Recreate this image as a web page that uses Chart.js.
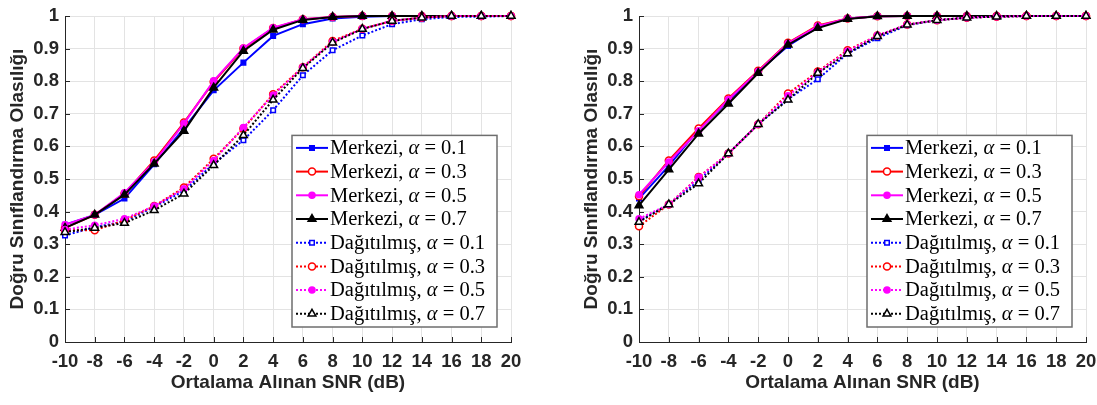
<!DOCTYPE html>
<html>
<head>
<meta charset="utf-8">
<script src="https://cdn.jsdelivr.net/npm/chart.js@4.4.1/dist/chart.umd.min.js"></script>
<style>
  html, body { margin: 0; padding: 0; background: #fff; overflow: hidden; }
  #wrap { position: relative; width: 1097px; height: 405px; }
  canvas { position: absolute; top: 0; display: block; }
</style>
</head>
<body>
<div id="wrap">
  <canvas id="left" width="574" height="405" style="left:0"></canvas>
  <canvas id="right" width="523" height="405" style="left:574px"></canvas>
</div>
<script>
// x values (dB)
const snr = [-10, -8, -6, -4, -2, 0, 2, 4, 6, 8, 10, 12, 14, 16, 18, 20];
const xTitle = "Ortalama Alınan SNR (dB)";
const yTitle = "Doğru Sınıflandırma Olasılığı";
const seriesNames = [
  "Merkezi, α = 0.1", "Merkezi, α = 0.3", "Merkezi, α = 0.5", "Merkezi, α = 0.7",
  "Dağıtılmış, α = 0.1", "Dağıtılmış, α = 0.3", "Dağıtılmış, α = 0.5", "Dağıtılmış, α = 0.7"
];

// left panel
const leftMerkezi01 = [0.360, 0.390, 0.440, 0.545, 0.655, 0.772, 0.857, 0.939, 0.975, 0.992, 0.998, 1, 1, 1, 1, 1];
const leftMerkezi03 = [0.350, 0.390, 0.455, 0.557, 0.673, 0.798, 0.900, 0.963, 0.990, 0.997, 1, 1, 1, 1, 1, 1];
const leftMerkezi05 = [0.360, 0.390, 0.458, 0.552, 0.670, 0.801, 0.902, 0.964, 0.990, 0.997, 1, 1, 1, 1, 1, 1];
const leftMerkezi07 = [0.350, 0.390, 0.452, 0.547, 0.647, 0.780, 0.893, 0.958, 0.988, 0.997, 1, 1, 1, 1, 1, 1];
const leftDagitik01 = [0.327, 0.352, 0.370, 0.414, 0.464, 0.547, 0.619, 0.711, 0.818, 0.895, 0.940, 0.975, 0.990, 0.997, 0.998, 1];
const leftDagitik03 = [0.343, 0.343, 0.373, 0.417, 0.474, 0.562, 0.655, 0.760, 0.843, 0.923, 0.961, 0.985, 0.995, 1, 1, 1];
const leftDagitik05 = [0.345, 0.358, 0.378, 0.417, 0.470, 0.557, 0.658, 0.757, 0.843, 0.920, 0.961, 0.985, 0.995, 1, 1, 1];
const leftDagitik07 = [0.337, 0.350, 0.365, 0.404, 0.455, 0.542, 0.634, 0.743, 0.840, 0.918, 0.960, 0.985, 0.995, 1, 1, 1];

// right panel
const rightMerkezi01 = [0.440, 0.540, 0.652, 0.740, 0.830, 0.908, 0.966, 0.992, 0.999, 1, 1, 1, 1, 1, 1, 1];
const rightMerkezi03 = [0.447, 0.557, 0.655, 0.747, 0.832, 0.918, 0.971, 0.992, 0.999, 1, 1, 1, 1, 1, 1, 1];
const rightMerkezi05 = [0.452, 0.552, 0.648, 0.744, 0.830, 0.916, 0.969, 0.992, 0.999, 1, 1, 1, 1, 1, 1, 1];
const rightMerkezi07 = [0.419, 0.529, 0.639, 0.731, 0.825, 0.912, 0.963, 0.991, 0.999, 1, 1, 1, 1, 1, 1, 1];
const rightDagitik01 = [0.372, 0.422, 0.495, 0.578, 0.668, 0.745, 0.806, 0.885, 0.932, 0.972, 0.987, 0.995, 0.998, 1, 1, 1];
const rightDagitik03 = [0.355, 0.422, 0.506, 0.578, 0.668, 0.762, 0.830, 0.895, 0.940, 0.974, 0.987, 0.995, 0.998, 1, 1, 1];
const rightDagitik05 = [0.378, 0.422, 0.505, 0.578, 0.668, 0.755, 0.827, 0.892, 0.940, 0.974, 0.987, 0.995, 0.998, 1, 1, 1];
const rightDagitik07 = [0.368, 0.422, 0.486, 0.578, 0.668, 0.743, 0.825, 0.885, 0.938, 0.973, 0.987, 0.995, 0.998, 1, 1, 1];

// marker / colour per alpha
const styles = [
  { color: "#0000ff", point: "rect", r: 3.2 },
  { color: "#ff0000", point: "circle", r: 3.5 },
  { color: "#ff00ff", point: "circle", r: 3 },
  { color: "#000000", point: "triangle", r: 4.5 }
];

function makeSets(merkezi, dagitik) {
  const sets = [];
  merkezi.concat(dagitik).forEach((vals, i) => {
    const s = styles[i % 4];
    const dotted = i >= 4;
    const hollow = (dotted && i !== 6) || i === 1;
    sets.push({
      label: seriesNames[i],
      data: snr.map((x, k) => ({ x: x, y: vals[k] })),
      borderColor: s.color,
      backgroundColor: s.color,
      borderWidth: 2,
      borderDash: dotted ? [2, 2] : [],
      pointStyle: s.point,
      pointRadius: s.r,
      pointBorderWidth: 1.5,
      pointBackgroundColor: hollow ? "#ffffff" : s.color,
      pointBorderColor: s.color,
      tension: 0,
      clip: false,
      order: 8 - i
    });
  });
  return sets;
}

// small inward tick marks like the original axes
const innerTicks = {
  id: "innerTicks",
  afterDatasetsDraw(chart) {
    const ctx = chart.ctx;
    const a = chart.chartArea;
    const xs = chart.scales.x, ys = chart.scales.y;
    ctx.save();
    ctx.strokeStyle = "#262626";
    ctx.lineWidth = 1;
    ctx.beginPath();
    xs.ticks.forEach(t => {
      const px = Math.round(xs.getPixelForValue(t.value)) + 0.5;
      ctx.moveTo(px, a.bottom);
      ctx.lineTo(px, a.bottom - 5);
    });
    ys.ticks.forEach(t => {
      const py = Math.round(ys.getPixelForValue(t.value)) + 0.5;
      ctx.moveTo(a.left, py);
      ctx.lineTo(a.left + 5, py);
    });
    ctx.stroke();
    ctx.restore();
  }
};

// legend drawn inside the plot area, bottom right
const insideLegend = {
  id: "insideLegend",
  afterDraw(chart) {
    const ctx = chart.ctx;
    const a = chart.chartArea;
    const w = 205, rowH = 23.7;
    const sets = chart.data.datasets;
    const h = rowH * sets.length + 2;
    const x0 = a.right - 14 - w;
    const y0 = a.bottom - 15 - h;
    const font = "20.5px 'Liberation Serif', serif";
    ctx.save();
    ctx.fillStyle = "#ffffff";
    ctx.fillRect(x0, y0, w, h);
    ctx.strokeStyle = "#6e6e6e";
    ctx.lineWidth = 1.5;
    ctx.strokeRect(x0, y0, w, h);
    sets.forEach((ds, i) => {
      const cy = y0 + 12.5 + i * rowH;
      ctx.beginPath();
      ctx.setLineDash(ds.borderDash);
      ctx.strokeStyle = ds.borderColor;
      ctx.lineWidth = 2;
      ctx.moveTo(x0 + 4, cy);
      ctx.lineTo(x0 + 36, cy);
      ctx.stroke();
      ctx.setLineDash([]);
      ctx.fillStyle = ds.pointBackgroundColor;
      ctx.strokeStyle = ds.pointBorderColor;
      ctx.lineWidth = ds.pointBorderWidth;
      Chart.helpers.drawPoint(ctx, { pointStyle: ds.pointStyle, radius: ds.pointRadius, rotation: 0, borderWidth: ds.pointBorderWidth }, x0 + 20, cy);
      // label with italic alpha
      const parts = ds.label.split("α");
      let tx = x0 + 38;
      ctx.fillStyle = "#000000";
      ctx.textBaseline = "middle";
      ctx.font = font;
      ctx.fillText(parts[0], tx, cy + 1);
      tx += ctx.measureText(parts[0]).width;
      ctx.font = "italic " + font;
      ctx.fillText("α", tx, cy + 1);
      tx += ctx.measureText("α").width;
      ctx.font = font;
      ctx.fillText(parts[1], tx, cy + 1);
    });
    ctx.restore();
  }
};

const tickFont = { family: "'Liberation Sans', Arial, sans-serif", size: 18.5, weight: "bold" };
const titleFont = { family: "'Liberation Sans', Arial, sans-serif", size: 19, weight: "bold" };

function makeChart(id, sets, padRight) {
  return new Chart(document.getElementById(id), {
    type: "line",
    data: { datasets: sets },
    options: {
      responsive: false,
      animation: false,
      layout: { padding: { left: 0, right: padRight, top: 16, bottom: 0 } },
      plugins: { legend: { display: false }, tooltip: { enabled: false } },
      scales: {
        x: {
          type: "linear",
          min: -10, max: 20,
          afterFit(scale) {
            scale.height = 63;
            scale.paddingLeft = 0;
            scale.paddingRight = 0;
          },
          ticks: { stepSize: 2, padding: 9, color: "#262626", font: tickFont, maxRotation: 0, autoSkip: false },
          grid: { color: "#e3e3e3", drawTicks: false },
          border: { color: "#262626", width: 1 },
          title: { display: true, text: xTitle, color: "#262626", font: titleFont, padding: { top: 0, bottom: 11 } }
        },
        y: {
          min: 0, max: 1,
          afterFit(scale) {
            scale.width = 65;
            scale.paddingTop = 0;
            scale.paddingBottom = 0;
          },
          ticks: { stepSize: 0.1, padding: 6, color: "#262626", font: tickFont,
                   callback: v => Math.round(v * 10) / 10 },
          grid: { color: "#e3e3e3", drawTicks: false },
          border: { color: "#262626", width: 1 },
          title: { display: true, text: yTitle, color: "#262626", font: titleFont, padding: { top: 6, bottom: 0 } }
        }
      }
    },
    plugins: [innerTicks, insideLegend]
  });
}

makeChart("left",
  makeSets([leftMerkezi01, leftMerkezi03, leftMerkezi05, leftMerkezi07],
           [leftDagitik01, leftDagitik03, leftDagitik05, leftDagitik07]), 63);
makeChart("right",
  makeSets([rightMerkezi01, rightMerkezi03, rightMerkezi05, rightMerkezi07],
           [rightDagitik01, rightDagitik03, rightDagitik05, rightDagitik07]), 11);
</script>
</body>
</html>
